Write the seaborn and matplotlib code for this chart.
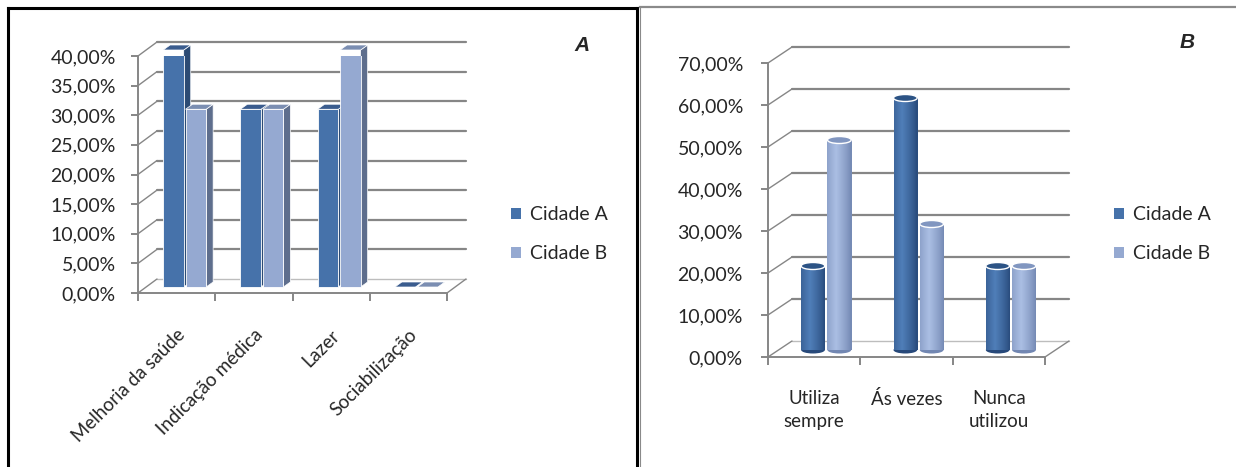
import numpy as np
import pandas as pd
import matplotlib
matplotlib.use('Agg')
import matplotlib.pyplot as plt
import seaborn as sns
from matplotlib.patches import Rectangle, Polygon, Ellipse, Patch
from matplotlib.lines import Line2D
from matplotlib.transforms import Affine2D, IdentityTransform

# ---------- dados ----------
cidades = ['Cidade A', 'Cidade B']

motivos = ['Melhoria da saúde', 'Indicação médica', 'Lazer', 'Sociabilização']
motivo_a = [40, 30, 30, 0]
motivo_b = [30, 30, 40, 0]
ticks_motivo = [0, 5, 10, 15, 20, 25, 30, 35, 40]

uso = ['Utiliza\nsempre', 'Ás vezes', 'Nunca\nutilizou']
uso_a = [20, 60, 20]
uso_b = [50, 30, 20]
ticks_uso = [0, 10, 20, 30, 40, 50, 60, 70]

# cores (frente, lado, topo)
cor_a = ('#4672AA', '#2C4B74', '#3A5C8E')
cor_b = ('#95A9D1', '#5E6E8D', '#7B8EB2')
grade = '#868686'

sns.set_theme(style='white')
plt.rcParams['font.family'] = ['Lato', 'DejaVu Sans']

W, H = 1236, 467
fig = plt.figure(figsize=(W / 100, H / 100), dpi=100)
ID = IdentityTransform()


def eixo(px_left, px_top_val, px_right, px_base):
    # caixa do eixo em pixels medidos a partir do topo da figura
    return fig.add_axes([px_left / W, 1 - px_base / H,
                         (px_right - px_left) / W, (px_base - px_top_val) / H])


def rotulo_pct(v):
    return f'{v:.2f}%'.replace('.', ',')


def parede(ax, ticks, prof):
    dx, dy = prof
    x0, x1 = ax.get_xlim()
    for v in ticks:
        (ax0, py), (ax1, _) = ax.transData.transform([(x0, v), (x1, v)])
        cor = grade if v > 0 else '#BDBDBD'
        ax.add_line(Line2D([ax0 + dx, ax1 + dx], [py + dy, py + dy], color=cor,
                           lw=1.6 if v > 0 else 1.0, transform=ID, zorder=1, clip_on=False))
        ax.add_line(Line2D([ax0, ax0 + dx], [py, py + dy], color=grade, lw=1.0,
                           transform=ID, zorder=1, clip_on=False))
    (bx0, by), (bx1, _) = ax.transData.transform([(x0, 0), (x1, 0)])
    ax.add_line(Line2D([bx1, bx1 + dx], [by, by + dy], color=grade, lw=1.0,
                       transform=ID, zorder=1, clip_on=False))


def formatar(ax, categorias, ticks, pad_y, pad_x, rot):
    n = len(categorias)
    ax.set_xlim(-0.5, n - 0.5)
    ax.set_ylim(0, ticks[-1])
    for s in ['top', 'right']:
        ax.spines[s].set_visible(False)
    for s in ['left', 'bottom']:
        ax.spines[s].set_color(grade)
        ax.spines[s].set_linewidth(1.4)
    ax.set_yticks(ticks)
    ax.set_yticklabels([rotulo_pct(v) for v in ticks], fontsize=14)
    ax.set_xticks(np.arange(n + 1) - 0.5)
    ax.set_xticklabels([''] * (n + 1))
    ax.set_xticks(np.arange(n), minor=True)
    if rot:
        ax.set_xticklabels(categorias, minor=True, fontsize=13.5, rotation=45,
                           ha='right', va='top', rotation_mode='anchor')
    else:
        ax.set_xticklabels(categorias, minor=True, fontsize=13.5, linespacing=1.4)
    ax.tick_params(axis='y', left=True, length=5, width=1.4, color=grade, pad=pad_y)
    ax.tick_params(axis='x', which='major', bottom=True, length=6, width=1.4, color=grade)
    ax.tick_params(axis='x', which='minor', bottom=True, length=0, pad=pad_x)
    ax.set_xlabel('')
    ax.set_ylabel('')
    ax.patch.set_alpha(0)


# ---------- painel A: caixas 3D ----------
axA = eixo(138, 56, 447, 293)
df_a = pd.DataFrame({'motivo': motivos * 2,
                     'valor': motivo_a + motivo_b,
                     'cidade': [cidades[0]] * 4 + [cidades[1]] * 4})
sns.barplot(data=df_a, x='motivo', y='valor', hue='cidade', order=motivos,
            hue_order=cidades, palette=[cor_a[0], cor_b[0]], saturation=1,
            width=0.58, gap=0.08, legend=False, ax=axA)
formatar(axA, motivos, ticks_motivo, pad_y=11, pad_x=24, rot=True)
parede(axA, ticks_motivo, (19, 14))

desl = (8, 6)      # posição das barras no meio da profundidade
prof = (7, 5)      # profundidade das caixas
for k, (cont, cores) in enumerate(zip(axA.containers, [cor_a, cor_b])):
    for p in cont.patches:
        p.set_transform(axA.transData + Affine2D().translate(*desl))
        p.set_zorder(3 + k + 0.2)
        p.set_edgecolor('white')
        p.set_linewidth(0.6)
        (x0, y0), (x1, y1) = axA.transData.transform(
            [(p.get_x(), 0), (p.get_x() + p.get_width(), p.get_height())])
        x0, x1 = x0 + desl[0], x1 + desl[0]
        y0, y1 = y0 + desl[1], y1 + desl[1]
        dx, dy = prof
        lado = Polygon([(x1, y0), (x1 + dx, y0 + dy), (x1 + dx, y1 + dy), (x1, y1)],
                       closed=True, facecolor=cores[1], edgecolor='white', lw=0.5,
                       transform=ID, zorder=3 + k, clip_on=False)
        topo = Polygon([(x0, y1), (x1, y1), (x1 + dx, y1 + dy), (x0 + dx, y1 + dy)],
                       closed=True, facecolor=cores[2], edgecolor='white', lw=0.5,
                       transform=ID, zorder=3 + k + 0.1, clip_on=False)
        axA.add_patch(lado)
        axA.add_patch(topo)
axA.set_xlim(-0.5, 3.5)
axA.set_ylim(0, 40)

# ---------- painel B: cilindros ----------
axB = eixo(768, 63, 1045, 357)
df_b = pd.DataFrame({'uso': uso * 2,
                     'valor': uso_a + uso_b,
                     'cidade': [cidades[0]] * 3 + [cidades[1]] * 3})
sns.barplot(data=df_b, x='uso', y='valor', hue='cidade', order=uso,
            hue_order=cidades, palette=[cor_a[0], cor_b[0]], saturation=1,
            width=0.57, gap=0.1, legend=False, ax=axB)
formatar(axB, uso, ticks_uso, pad_y=13, pad_x=24, rot=False)
parede(axB, ticks_uso, (24, 16))

gradiente = [('#27497A', '#4F7EB8', '#2C5385'), ('#7287B2', '#AABEE3', '#8196C0')]
desl = (12, 7)
n_faixas = 24
for k, (cont, (c_borda, c_luz, c_topo)) in enumerate(zip(axB.containers, gradiente)):
    ca = np.array(matplotlib.colors.to_rgb(c_borda))
    cl = np.array(matplotlib.colors.to_rgb(c_luz))
    for p in cont.patches:
        p.set_visible(False)
        (x0, y0), (x1, y1) = axB.transData.transform(
            [(p.get_x(), 0), (p.get_x() + p.get_width(), p.get_height())])
        x0, x1 = x0 + desl[0], x1 + desl[0]
        y0, y1 = y0 + desl[1], y1 + desl[1]
        w = x1 - x0
        z = 3 + k
        axB.add_patch(Ellipse(((x0 + x1) / 2, y0), w, 7, facecolor=c_borda,
                              edgecolor='none', transform=ID, zorder=z, clip_on=False))
        for i in range(n_faixas):
            t = (i + 0.5) / n_faixas
            f = np.clip(1 - abs(t - 0.38) / 0.62, 0, 1) ** 0.8
            cor = ca + (cl - ca) * f
            axB.add_patch(Rectangle((x0 + w * i / n_faixas, y0), w / n_faixas + 0.4, y1 - y0,
                                    facecolor=cor, edgecolor='none', transform=ID,
                                    zorder=z + 0.1, clip_on=False))
        axB.add_patch(Ellipse(((x0 + x1) / 2, y1), w, 7, facecolor=c_topo,
                              edgecolor='white', lw=1.0, transform=ID, zorder=z + 0.2,
                              clip_on=False))
axB.set_xlim(-0.5, 2.5)
axB.set_ylim(0, 70)

# ---------- legendas ----------
alcas = [Patch(facecolor=cor_a[0], edgecolor='none'), Patch(facecolor=cor_b[0], edgecolor='none')]
for xl in [511, 1114]:
    fig.legend(alcas, cidades, loc='upper left', bbox_to_anchor=(xl / W, 1 - 206 / H),
               frameon=False, fontsize=14, handlelength=0.5, handleheight=0.5,
               handletextpad=0.5, labelspacing=1.15, borderpad=0, borderaxespad=0)

fig.text(582 / W, 1 - 45 / H, 'A', fontsize=15, fontweight='bold', fontstyle='italic',
         family='Liberation Sans', ha='center', va='center')
fig.text(1187 / W, 1 - 43 / H, 'B', fontsize=15, fontweight='bold', fontstyle='italic',
         family='Liberation Sans', ha='center', va='center')


# ---------- molduras ----------
def linha_px(xs, ys, cor, lw):
    fig.add_artist(Line2D([x / W for x in xs], [1 - y / H for y in ys], color=cor, lw=lw,
                          transform=fig.transFigure, solid_capstyle='projecting'))


linha_px([8, 8], [467, 8], 'black', 2.2)
linha_px([8, 637], [8, 8], 'black', 2.2)
linha_px([637, 637], [8, 467], 'black', 2.2)
linha_px([640, 1236], [7, 7], '#8A8A8A', 1.6)
linha_px([640, 640], [7, 467], '#8A8A8A', 0.8)

fig.savefig('out.png', dpi=100)
